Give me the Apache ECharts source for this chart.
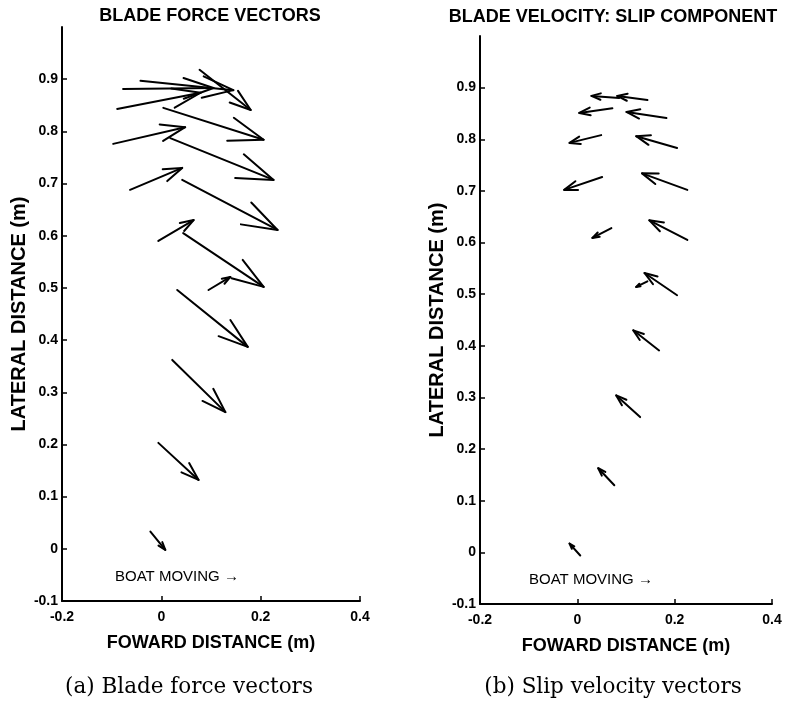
<!DOCTYPE html>
<html>
<head>
<meta charset="utf-8">
<title>Blade force and slip velocity vectors</title>
<script src="https://cdn.jsdelivr.net/npm/echarts@6/dist/echarts.min.js"></script>
<style>
  html, body { margin: 0; padding: 0; background: #fff; }
  #chart { width: 786px; height: 703px; }
</style>
</head>
<body>
<div id="chart"></div>
<script>
// Quiver data: tail position (x, y) and vector components (u, v), metres.
// Blade force vectors
const forceX = [-0.022, -0.006, 0.022, 0.032, 0.095, 0.044, -0.006, 0.042, -0.063, 0.018, -0.097, 0.004, -0.089, -0.042, -0.077, 0.077];
const forceY = [0.033, 0.203, 0.362, 0.496, 0.496, 0.605, 0.590, 0.707, 0.688, 0.787, 0.776, 0.845, 0.843, 0.897, 0.881, 0.918];
const forceU = [0.030, 0.081, 0.107, 0.142, 0.044, 0.162, 0.071, 0.192, 0.105, 0.208, 0.145, 0.202, 0.168, 0.187, 0.182, 0.103];
const forceV = [-0.035, -0.071, -0.100, -0.109, 0.025, -0.103, 0.040, -0.096, 0.042, -0.080, 0.032, -0.061, 0.031, -0.018, 0.002, -0.077];

// Blade velocity, slip component
const slipX = [0.006, 0.076, 0.129, 0.168, 0.205, 0.144, 0.226, 0.070, 0.226, 0.051, 0.205, 0.049, 0.183, 0.072, 0.144, 0.086];
const slipY = [-0.006, 0.130, 0.262, 0.391, 0.498, 0.525, 0.605, 0.628, 0.702, 0.727, 0.783, 0.808, 0.841, 0.860, 0.876, 0.880];
const slipU = [-0.022, -0.033, -0.049, -0.053, -0.067, -0.023, -0.078, -0.039, -0.093, -0.078, -0.084, -0.065, -0.082, -0.068, -0.062, -0.057];
const slipV = [0.023, 0.033, 0.042, 0.039, 0.043, -0.011, 0.038, -0.019, 0.032, -0.025, 0.023, -0.015, 0.012, -0.009, 0.008, 0.004];

// Axis ticks
const xTicks = [-0.2, 0, 0.2, 0.4];
const yTicks = [-0.1, 0, 0.1, 0.2, 0.3, 0.4, 0.5, 0.6, 0.7, 0.8, 0.9];

const panelTitles = ['BLADE FORCE VECTORS', 'BLADE VELOCITY: SLIP COMPONENT'];
const captions = ['(a) Blade force vectors', '(b) Slip velocity vectors'];
const xName = 'FOWARD DISTANCE (m)';
const yName = 'LATERAL DISTANCE (m)';
const boatNote = 'BOAT MOVING \u2192';

function zip(xs, ys, us, vs) {
  return xs.map((x, i) => [x, ys[i], us[i], vs[i]]);
}

// Arrow with two head barbs, built in data space like a classic quiver plot
const HEAD = 0.33, SPREAD = 0.33;
function renderArrow(params, api) {
  const x = api.value(0), y = api.value(1), u = api.value(2), v = api.value(3);
  const tx = x + u, ty = y + v;
  const tail = api.coord([x, y]);
  const tip = api.coord([tx, ty]);
  const b1 = api.coord([tx - HEAD * (u + SPREAD * v), ty - HEAD * (v - SPREAD * u)]);
  const b2 = api.coord([tx - HEAD * (u - SPREAD * v), ty - HEAD * (v + SPREAD * u)]);
  const st = { stroke: '#000', lineWidth: 2, fill: null, lineCap: 'round', lineJoin: 'round' };
  return {
    type: 'group',
    children: [
      { type: 'polyline', shape: { points: [tail, tip] }, style: st },
      { type: 'polyline', shape: { points: [b1, tip, b2] }, style: st }
    ]
  };
}

function fmt(v) {
  if (Math.abs(v) < 1e-9) return '0';
  return (Math.round(v * 10) / 10).toFixed(1);
}

const SANS = '"Liberation Sans", Arial, sans-serif';
const axisFont = { color: '#000', fontSize: 14, fontWeight: 'bold', fontFamily: SANS };
const xNameFont = { color: '#000', fontSize: 18, fontWeight: 'bold', fontFamily: SANS };
const yNameFont = { color: '#000', fontSize: 20, fontWeight: 'bold', fontFamily: SANS };

function makeX(gi) {
  return {
    gridIndex: gi, type: 'value', min: -0.2, max: 0.4,
    axisLine: { show: true, onZero: false, lineStyle: { color: '#000', width: 2 } },
    axisTick: { show: true, inside: true, length: 5, customValues: xTicks, lineStyle: { color: '#000', width: 1.5 } },
    axisLabel: Object.assign({ margin: 9, customValues: xTicks, formatter: fmt, showMinLabel: true, showMaxLabel: true }, axisFont),
    splitLine: { show: false },
    name: xName, nameLocation: 'middle', nameGap: 33, nameTextStyle: xNameFont
  };
}
function makeY(gi, gap) {
  return {
    gridIndex: gi, type: 'value', min: -0.1, max: 1.0,
    axisLine: { show: true, onZero: false, lineStyle: { color: '#000', width: 2 } },
    axisTick: { show: true, inside: true, length: 5, customValues: yTicks, lineStyle: { color: '#000', width: 1.5 } },
    axisLabel: Object.assign({ margin: 4, customValues: yTicks, formatter: fmt, showMinLabel: true }, axisFont),
    splitLine: { show: false },
    name: yName, nameLocation: 'middle', nameGap: gap, nameRotate: 90, nameTextStyle: yNameFont
  };
}

function textEl(x, y, text, font) {
  return { type: 'text', x: x, y: y, style: { text: text, font: font, fill: '#000', align: 'center', verticalAlign: 'middle' } };
}

const chart = echarts.init(document.getElementById('chart'), null, { renderer: 'canvas' });
chart.setOption({
  backgroundColor: '#fff',
  animation: false,
  grid: [
    { left: 62, top: 27, width: 298, height: 574, containLabel: false, outerBoundsMode: 'none' },
    { left: 480, top: 36, width: 292, height: 568, containLabel: false, outerBoundsMode: 'none' }
  ],
  xAxis: [makeX(0), makeX(1)],
  yAxis: [makeY(0, 30), makeY(1, 33)],
  series: [
    { type: 'custom', xAxisIndex: 0, yAxisIndex: 0, renderItem: renderArrow, data: zip(forceX, forceY, forceU, forceV), clip: false, silent: true },
    { type: 'custom', xAxisIndex: 1, yAxisIndex: 1, renderItem: renderArrow, data: zip(slipX, slipY, slipU, slipV), clip: false, silent: true }
  ],
  graphic: [
    textEl(210, 16, panelTitles[0], 'bold 18px ' + SANS),
    textEl(613, 17, panelTitles[1], 'bold 18px ' + SANS),
    textEl(177, 577, boatNote, '15px ' + SANS),
    textEl(591, 580, boatNote, '15px ' + SANS),
    textEl(189, 687, captions[0], '21.5px "DejaVu Serif", serif'),
    textEl(613, 687, captions[1], '21.5px "DejaVu Serif", serif')
  ]
});
</script>
</body>
</html>
